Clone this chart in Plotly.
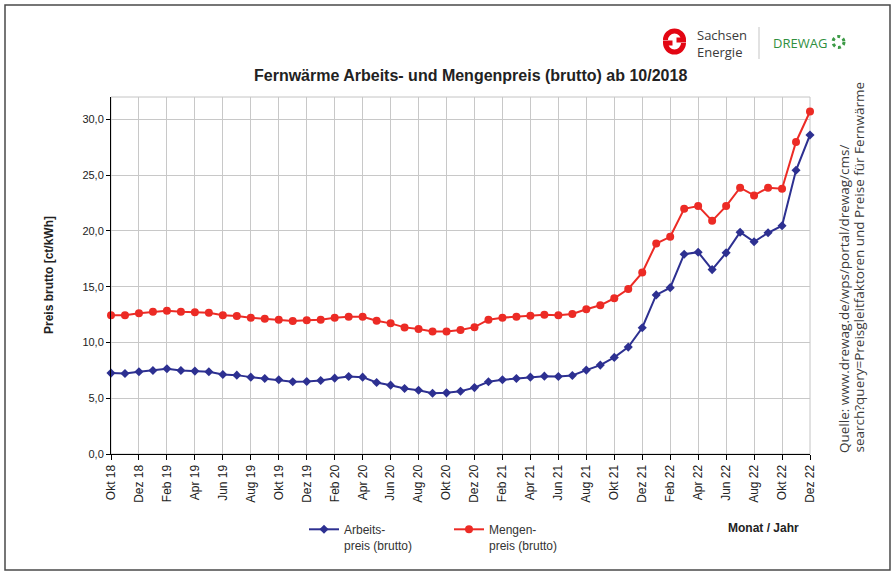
import plotly.graph_objects as go

# ---------------- data ----------------
month_names = ["Jan", "Feb", "Mär", "Apr", "Mai", "Jun", "Jul", "Aug", "Sep", "Okt", "Nov", "Dez"]
months = []
for yr in range(2018, 2023):
    for m in range(12):
        if yr == 2018 and m < 9:
            continue
        months.append(f"{month_names[m]} {str(yr)[2:]}")

arbeitspreis = [7.25, 7.22, 7.37, 7.49, 7.64, 7.49, 7.43, 7.37, 7.13, 7.07,
                6.89, 6.77, 6.65, 6.47, 6.50, 6.59, 6.80, 6.95, 6.89, 6.41,
                6.17, 5.87, 5.72, 5.45, 5.48, 5.63, 5.95, 6.47, 6.65, 6.77,
                6.89, 6.98, 6.95, 7.04, 7.52, 7.97, 8.66, 9.58, 11.32, 14.26,
                14.91, 17.91, 18.09, 16.53, 18.03, 19.88, 19.02, 19.83, 20.46, 25.43,
                28.60]
mengenpreis = [12.43, 12.43, 12.61, 12.76, 12.85, 12.76, 12.70, 12.67, 12.43, 12.37,
               12.22, 12.13, 12.04, 11.92, 11.98, 12.04, 12.22, 12.31, 12.31, 11.95,
               11.71, 11.35, 11.20, 10.99, 10.99, 11.12, 11.37, 12.04, 12.22, 12.31,
               12.40, 12.49, 12.43, 12.55, 12.97, 13.33, 13.96, 14.79, 16.26, 18.87,
               19.47, 21.98, 22.22, 20.90, 22.22, 23.87, 23.18, 23.87, 23.78, 27.97,
               30.70]
tick_labels = months[::2]
y_ticks = [0, 5, 10, 15, 20, 25, 30]

# ---------------- layout helpers (pixel -> paper) ----------------
W, H = 896, 572
L, R, T, B = 111, 810, 97, 454


def px(x):
    return (x - L) / (R - L)


def py(y):
    return (B - y) / (B - T)


BLUE = "#2d3091"
RED = "#ec2b25"
FONT = "Liberation Sans, Arial, sans-serif"

fig = go.Figure()
fig.add_trace(go.Scatter(
    x=months, y=arbeitspreis, mode="lines+markers",
    name="Arbeits-<br>preis (brutto)",
    line=dict(color=BLUE, width=2),
    marker=dict(symbol="diamond", size=7, color=BLUE),
    cliponaxis=False,
))
fig.add_trace(go.Scatter(
    x=months, y=mengenpreis, mode="lines+markers",
    name="Mengen-<br>preis (brutto)",
    line=dict(color=RED, width=2),
    marker=dict(symbol="circle", size=8, color=RED),
    cliponaxis=False,
))


def to_path(points, cmds):
    s = ""
    i = 0
    for c in cmds:
        if c in ("M", "L"):
            x, y = points[i]
            s += f"{c} {px(x):.5f},{py(y):.5f} "
            i += 1
        elif c == "C":
            s += "C "
            for j in range(3):
                x, y = points[i]
                s += f"{px(x):.5f},{py(y):.5f} "
                i += 1
    return s


k = 0.5523
cx, cy, r = 674.5, 41.5, 9.0
top_pts = [(cx - r, cy - 1.5), (cx - r, cy - 1.5 - k * r), (cx - k * r, cy - r - 1.5), (cx, cy - r - 1.5),
           (cx + k * r, cy - r - 1.5), (cx + r, cy - 1.5 - k * r), (cx + r, cy - 1.5), (cx + 2, cy - 1.5)]
top_path = to_path(top_pts, ["M", "C", "C", "L"])
bot_pts = [(cx + r, cy + 1.5), (cx + r, cy + 1.5 + k * r), (cx + k * r, cy + r + 1.5), (cx, cy + r + 1.5),
           (cx - k * r, cy + r + 1.5), (cx - r, cy + 1.5 + k * r), (cx - r, cy + 1.5), (cx - 2, cy + 1.5)]
bot_path = to_path(bot_pts, ["M", "C", "C", "L"])

shapes = [
    # outer frame
    dict(type="rect", xref="paper", yref="paper", x0=px(5), x1=px(890), y0=py(570), y1=py(5),
         line=dict(color="#4a4a4a", width=1.5), layer="below"),
    # plot area border (grey)
    dict(type="rect", xref="paper", yref="paper", x0=0, x1=1, y0=0, y1=1,
         line=dict(color="#c4c4c4", width=1), layer="below"),
    # logo
    dict(type="path", xref="paper", yref="paper", path=top_path, line=dict(color="#e30613", width=5)),
    dict(type="path", xref="paper", yref="paper", path=bot_path, line=dict(color="#e30613", width=5)),
    dict(type="line", xref="paper", yref="paper", x0=px(759), x1=px(759), y0=py(27), y1=py(59),
         line=dict(color="#cfcfcf", width=1.2)),
    dict(type="circle", xref="paper", yref="paper", x0=px(833), x1=px(844), y0=py(47.5), y1=py(36.5),
         line=dict(color="#3c9a46", width=3, dash="dot")),
]

annotations = [
    dict(text="<b>Fernwärme Arbeits- und Mengenpreis (brutto) ab 10/2018</b>", x=px(470), y=py(75),
         xref="paper", yref="paper", showarrow=False, xanchor="center", yanchor="middle",
         font=dict(family=FONT, size=16, color="#222222")),
    dict(text="<b>Preis brutto [ct/kWh]</b>", x=px(49), y=py(275), textangle=-90,
         xref="paper", yref="paper", showarrow=False, xanchor="center", yanchor="middle",
         font=dict(family=FONT, size=12, color="#222222")),
    dict(text="<b>Monat / Jahr</b>", x=px(763), y=py(528),
         xref="paper", yref="paper", showarrow=False, xanchor="center", yanchor="middle",
         font=dict(family=FONT, size=12, color="#222222")),
    dict(text="Quelle: www.drewag.de/wps/portal/drewag/cms/",
         x=px(844), y=py(455), textangle=-90,
         xref="paper", yref="paper", showarrow=False, xanchor="center", yanchor="bottom",
         font=dict(family="Open Sans, sans-serif", size=13.5, color="#3a3a3a")),
    dict(text="search?query=Preisgleitfaktoren und Preise für Fernwärme",
         x=px(858), y=py(455), textangle=-90,
         xref="paper", yref="paper", showarrow=False, xanchor="center", yanchor="bottom",
         font=dict(family="Open Sans, sans-serif", size=13.5, color="#3a3a3a")),
    dict(text="Sachsen<br>Energie", x=px(695), y=py(43), align="left",
         xref="paper", yref="paper", showarrow=False, xanchor="left", yanchor="middle",
         font=dict(family="Open Sans, sans-serif", size=13, color="#3a3a3a")),
    dict(text="DREWAG", x=px(771), y=py(42.5),
         xref="paper", yref="paper", showarrow=False, xanchor="left", yanchor="middle",
         font=dict(family="Open Sans, sans-serif", size=13, color="#2f8f3e")),
]

fig.update_layout(
    width=W, height=H,
    margin=dict(l=L, r=W - R, t=T, b=H - B, pad=0),
    paper_bgcolor="white", plot_bgcolor="white",
    separators=",.",
    font=dict(family=FONT, size=12, color="#222222"),
    showlegend=True,
    legend=dict(orientation="h", x=px(304), y=py(515), xanchor="left", yanchor="top",
                valign="top", entrywidth=100, entrywidthmode="pixels",
                font=dict(family=FONT, size=12, color="#333333"), bgcolor="rgba(0,0,0,0)"),
    shapes=shapes,
    annotations=annotations,
)
fig.update_xaxes(
    type="category", categoryorder="array", categoryarray=months,
    tickmode="array", tickvals=tick_labels, ticktext=tick_labels,
    range=[0, len(months) - 1], tickangle=-90,
    showgrid=True, gridcolor="#c8c8c8", gridwidth=1,
    showline=True, linecolor="#000000", linewidth=1,
    ticks="outside", ticklen=5, tickcolor="#000000",
    tickfont=dict(family=FONT, size=12, color="#222222"),
    zeroline=False,
)
fig.update_yaxes(
    range=[0, 32], tickmode="array", tickvals=y_ticks, tickformat=".1f",
    showgrid=True, gridcolor="#c8c8c8", gridwidth=1,
    showline=True, linecolor="#000000", linewidth=1,
    ticks="outside", ticklen=4, tickcolor="#000000",
    tickfont=dict(family=FONT, size=11, color="#222222"),
    zeroline=False,
)

fig.write_html("out.html", config={"displayModeBar": False},
               post_script="document.body.style.margin='0px';document.body.style.overflow='hidden';")
